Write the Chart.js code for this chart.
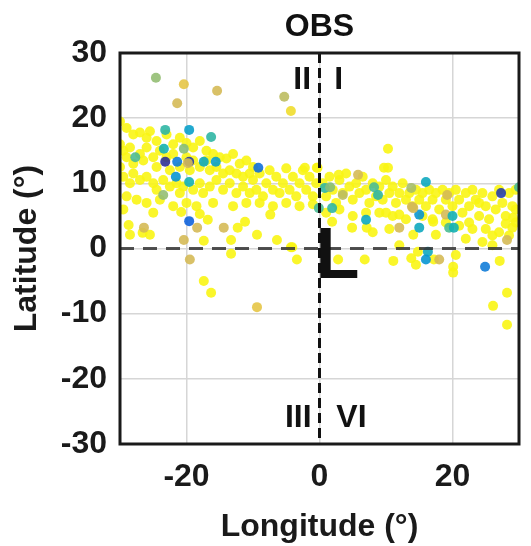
<!DOCTYPE html>
<html>
<head>
<meta charset="utf-8">
<script src="https://cdn.jsdelivr.net/npm/chart.js@4"></script>
<style>
  html, body { margin: 0; padding: 0; background: #fff; }
  #wrap { width: 531px; height: 546px; }
</style>
</head>
<body>
<div id="wrap"><canvas id="obsChart"></canvas></div>
<script>
// Longitude / latitude of each observation, plus colour value (0 = dark blue, 1 = yellow)
const lon = [
  // yellow band, west
  -30, -29, -28, -27, -26, -25.5, -24.5, -23, -22, -21, -20, -19, -18, -17, -16, -15, -14, -13, -12, -11, -10,
  -30, -29.5, -29, -28.5, -28, -27, -26.5, -26, -25, -24.5, -24, -23, -22.5, -22, -21, -20, -19.5, -19, -18, -17, -16.5, -15.5, -14.5, -13.5, -12.5, -11.5, -10.5,
  -30, -29.5, -28.5, -28, -27, -26, -25, -24.5, -23.5, -22.5, -21.5, -21, -20.5, -19, -18, -17.5, -16.5, -15.5, -14.5, -13.5, -12.5, -11.5, -10.5,
  -29, -27.5, -26, -24, -22, -20, -18.5, -16, -13, -11, -29.5, -25, -20.8,
  -28.7, -26.6, -28.5, -25.5, -18, -16.8, -17.4, -12.3, -11.2, -13.3, -13.3, -17.4, -16.3,
  // yellow band, centre
  -10, -9.5, -9, -8.5, -8, -7.5, -7, -6.5, -6, -5.5, -5, -4.5, -4, -3.5, -3, -2.5, -2, -1.5, -1, -0.5, -0.3, -2.2,
  -9, -7, -5, -3, -1, -4.3, -7.4, -9.4, -6.4, -4.1, -3.4,
  // yellow band, east
  0.5, 1, 1.5, 2, 2.5, 3, 3.5, 4, 4.5, 5, 5.5, 6, 6.5, 7, 7.5, 8, 8.5, 9, 9.5, 10, 10.5, 11, 11.5, 12, 12.5, 13, 13.5, 14, 14.5, 15,
  15.5, 16, 16.5, 17, 17.5, 18, 18.5, 19, 19.5, 20, 20.5, 21, 21.5, 22, 22.5, 23, 23.5, 24, 24.5, 25, 25.5, 26, 26.5, 27, 27.5, 28, 28.5, 29, 29.5, 29.5,
  1, 3, 5, 7, 9, 11, 13, 15.5, 17, 19, 21, 23, 25, 27, 28.5, 22, 24.5, 26, 10.5, 8, 12, 13.8, 14.5, 20.5,
  10.3, 10.3, 2.9, 9.7, -0.4, 1.9, 4.9, 7.1, 2.8, 6.8, 12.0, 17.1, 17.5, 14.1, 14.8, 17.2, 11.1, 20.1, 20.1, 27.1, 29.0, 29.1,
  28.2, 26.1, 28.2, 10, 26, 28, 29.5, 24, 22.5,
  // coloured points
  -24.6, -20.4, -15.4, -21.4, -5.3, -4.3, -9.2, -19.6, -16.3, -23.2, -23.4, -20.4,
  -23.2, -21.4, -19.6, -17.4, -15.6, -21.6, -19.6, -27.7, -23.5, -19.8,
  -19.6, -18.4, -14.4, -26.4, -20.4, -19.5, -9.4,
  7.0, -0.1, 1.9, 15.0, 15.0, 12.0, 14.1, 19.0, 19.5, 20.2,
  16.3, 16.0, 18.0, 24.9, 28.2, 16.0, 27.3, 30, 13.8, 0.8, 5.8, 8.2,
  19.2, 3.5, 13.9, 8.8, 1.6, 20.0
];
const lat = [
  19.5, 18.5, 17.5, 17.8, 17, 18, 16.5, 17.5, 16, 17, 16.2, 15.5, 16.5, 15, 14.5, 14, 13.8, 14.5, 13, 13.5, 12.5,
  16, 15, 14, 15.5, 13, 14.5, 13.5, 15.5, 14, 12.5, 15, 14, 12, 14.5, 12.5, 14, 12, 13.5, 12.5, 13.5, 12, 12.5, 11.5, 12, 11.5, 11, 11.5,
  12.5, 11, 10, 11.5, 10.5, 11, 10, 9, 10.5, 9.5, 10, 8.5, 9.5, 9, 10, 8.5, 9.5, 10.5, 9, 10, 8.5, 9.5, 8.5,
  8, 7.5, 7, 7.5, 6.5, 7, 6.5, 7, 6.5, 7, 6, 5.5, 5.6,
  3.6, 2.4, 2.1, 2.1, 5.3, 4.4, 1.2, 3.2, 4.1, 1.3, -0.8, -5.0, -6.8,
  10.5, 9, 11.5, 8, 10, 12, 9, 11, 8.5, 10, 12.3, 9, 11, 8, 10, 12, 9, 11, 8, 10, 12.4, 12.4,
  7, 6.5, 7, 6.5, 6.8, 0.2, 5.2, 2.1, 1.3, 0.2, -1.7,
  10, 8, 11, 9, 7, 10.5, 8.5, 11.5, 9.5, 7.5, 10, 8.5, 11, 9, 7, 10, 8, 9.5, 7.5, 10.5, 8.5, 9.5, 7, 8.5, 10, 7.5, 8.5, 6.5, 9, 7.5,
  8.5, 6.5, 9, 7.5, 8.5, 6, 9, 7.5, 8.5, 6.5, 9, 7.5, 5.5, 8.5, 6.5, 9, 7.5, 5, 8.5, 6.5, 4.5, 8, 6, 9, 7, 5, 8.5, 6.5, 9, 4,
  5.5, 6, 5, 5.5, 5.5, 5, 4.5, 5, 4.5, 4, 3.5, 3, 3, 2.5, 2, 1.5, 1, 0.5, 3, 2.5, 0.5, -1.5, -2.5, -1,
  15.3, 12.4, 11.3, 12.4, 12.4, 4.1, 3.2, 3.2, -1.7, -1.7, 5.2, 4.1, 2.1, 2.1, -0.5, -1.7, -1.9, -2.8, -3.7, -1.9, 3.2, 4.7,
  -6.8, -8.8, -11.7, 5.5, 2, 3.8, 6, 7, 4,
  26.2, 25.2, 24.2, 22.3, 23.3, 21.1, 12.4, 18.2, 17.1, 18.2, 15.3, 15.3,
  13.3, 13.3, 13.3, 13.3, 13.3, 11.0, 10.2, 14, 8.2, 13.1,
  4.2, 3.2, 3.2, 3.2, 1.3, -1.7, -9.0,
  4.4, 6.2, 6.2, 5.2, 3.2, 3.2, 6.2, 5.2, 3.2, 3.2,
  -0.5, -1.7, -1.7, -2.8, 1.3, 10.2, 8.5, 9.4, 9.3, 9.3, 11.3, 9.4,
  8.2, 8.2, 6.4, 8.2, 9.4, 5.0
];
const colourVal = [
  0.72, 0.9, 0.85, 0.85, 0.8, 0.95, 0.2, 0.4, 0.55, 0.55, 0.5, 0.7,
  0.02, 0.25, 0.05, 0.45, 0.4, 0.35, 0.5, 0.6, 0.72, 0.85,
  0.15, 0.85, 0.85, 0.85, 0.85, 0.85, 0.9,
  0.45, 0.6, 0.55, 0.35, 0.45, 0.85, 0.85, 0.85, 0.6, 0.5,
  0.45, 0.35, 0.85, 0.25, 0.85, 0.45, 0.05, 0.6, 0.75, 0.55, 0.85, 0.6,
  0.85, 0.8, 0.85, 0.55, 0.7, 0.5
];
const vals = lon.map((v, i) => i < lon.length - colourVal.length ? 1 : colourVal[i - (lon.length - colourVal.length)]);

const yTicks = [-30, -20, -10, 0, 10, 20, 30];
const xTicks = [-20, 0, 20];

// quadrant annotations
const quadLabels = [
  { text: 'II', x: -2.6, y: 25.9 },
  { text: 'I', x: 2.9, y: 25.9 },
  { text: 'III', x: -3.2, y: -26.1 },
  { text: 'VI', x: 4.8, y: -26.1 }
];

// parula-ish colour map
const stops = [
  [0, 53, 42, 135], [0.125, 15, 92, 221], [0.25, 18, 125, 216], [0.375, 7, 156, 207],
  [0.5, 21, 177, 180], [0.625, 89, 189, 140], [0.75, 165, 190, 107], [0.875, 225, 185, 82], [1, 249, 245, 20]
];
function parula(v) {
  for (let i = 1; i < stops.length; i++) {
    if (v <= stops[i][0]) {
      const a = stops[i - 1], b = stops[i];
      const t = (v - a[0]) / (b[0] - a[0]);
      const c = [1, 2, 3].map(k => Math.round(a[k] + (b[k] - a[k]) * t));
      return `rgba(${c[0]},${c[1]},${c[2]},0.9)`;
    }
  }
  return 'rgba(249,245,20,0.9)';
}

const FONT = "'Liberation Sans', Arial, sans-serif";

const overlay = {
  id: 'overlay',
  afterDatasetsDraw(chart) {
    const { ctx, chartArea: a, scales: { x, y } } = chart;
    ctx.save();
    // zero lines
    ctx.setLineDash([10, 5]);
    ctx.lineWidth = 3;
    ctx.strokeStyle = '#111';
    ctx.beginPath();
    ctx.moveTo(x.getPixelForValue(0), a.top);
    ctx.lineTo(x.getPixelForValue(0), a.bottom);
    ctx.stroke();
    ctx.setLineDash([14, 9]);
    ctx.strokeStyle = 'rgba(50,50,50,0.85)';
    ctx.beginPath();
    ctx.moveTo(a.left, y.getPixelForValue(0));
    ctx.lineTo(a.right, y.getPixelForValue(0));
    ctx.stroke();
    ctx.setLineDash([]);
    // box
    ctx.lineWidth = 3;
    ctx.strokeStyle = '#1a1a1a';
    ctx.strokeRect(a.left, a.top, a.right - a.left, a.bottom - a.top);
    // quadrant labels
    ctx.fillStyle = '#111';
    ctx.font = `bold 32px ${FONT}`;
    ctx.textAlign = 'center';
    ctx.textBaseline = 'middle';
    quadLabels.forEach(q => ctx.fillText(q.text, x.getPixelForValue(q.x), y.getPixelForValue(q.y)));
    // big L
    ctx.font = `bold 72px ${FONT}`;
    ctx.textAlign = 'left';
    ctx.textBaseline = 'alphabetic';
    ctx.fillText('L', x.getPixelForValue(-0.6), y.getPixelForValue(-4.5));
    ctx.restore();
  }
};

new Chart(document.getElementById('obsChart'), {
  type: 'scatter',
  data: {
    datasets: [{
      data: lon.map((v, i) => ({ x: v, y: lat[i] })),
      backgroundColor: vals.map(parula),
      pointRadius: 5,
      pointBorderWidth: 0,
      pointHoverRadius: 5
    }]
  },
  options: {
    responsive: true,
    maintainAspectRatio: false,
    animation: false,
    layout: { padding: { top: 0, right: 12, left: 0, bottom: 0 } },
    plugins: {
      legend: { display: false },
      tooltip: { enabled: false },
      title: {
        display: true,
        fullSize: false,
        text: 'OBS',
        color: '#111',
        font: { family: FONT, size: 32, weight: 'bold' },
        padding: { top: 8, bottom: 6.6 }
      }
    },
    scales: {
      x: {
        type: 'linear',
        min: -30,
        max: 30,
        afterBuildTicks: s => { s.ticks = xTicks.map(v => ({ value: v })); },
        afterFit: s => { s.height = 102; },
        border: { display: false },
        grid: { color: '#d6d6d6', lineWidth: 1.5, drawTicks: false },
        ticks: { color: '#1a1a1a', padding: 14, font: { family: FONT, size: 32, weight: 'bold' } },
        title: {
          display: true,
          text: 'Longitude (°)',
          color: '#1a1a1a',
          font: { family: FONT, size: 32, weight: 'bold' },
          padding: { top: 0, bottom: 0 }
        }
      },
      y: {
        type: 'linear',
        min: -30,
        max: 30,
        afterBuildTicks: s => { s.ticks = yTicks.map(v => ({ value: v })); },
        afterFit: s => { s.width = 120; },
        border: { display: false },
        grid: { color: '#d6d6d6', lineWidth: 1.5, drawTicks: false },
        ticks: { color: '#1a1a1a', padding: 13, font: { family: FONT, size: 32, weight: 'bold' } },
        title: {
          display: true,
          text: 'Latitude (°)',
          color: '#1a1a1a',
          font: { family: FONT, size: 32, weight: 'bold' },
          padding: { top: 8, bottom: 0 }
        }
      }
    }
  },
  plugins: [overlay]
});
</script>
</body>
</html>
